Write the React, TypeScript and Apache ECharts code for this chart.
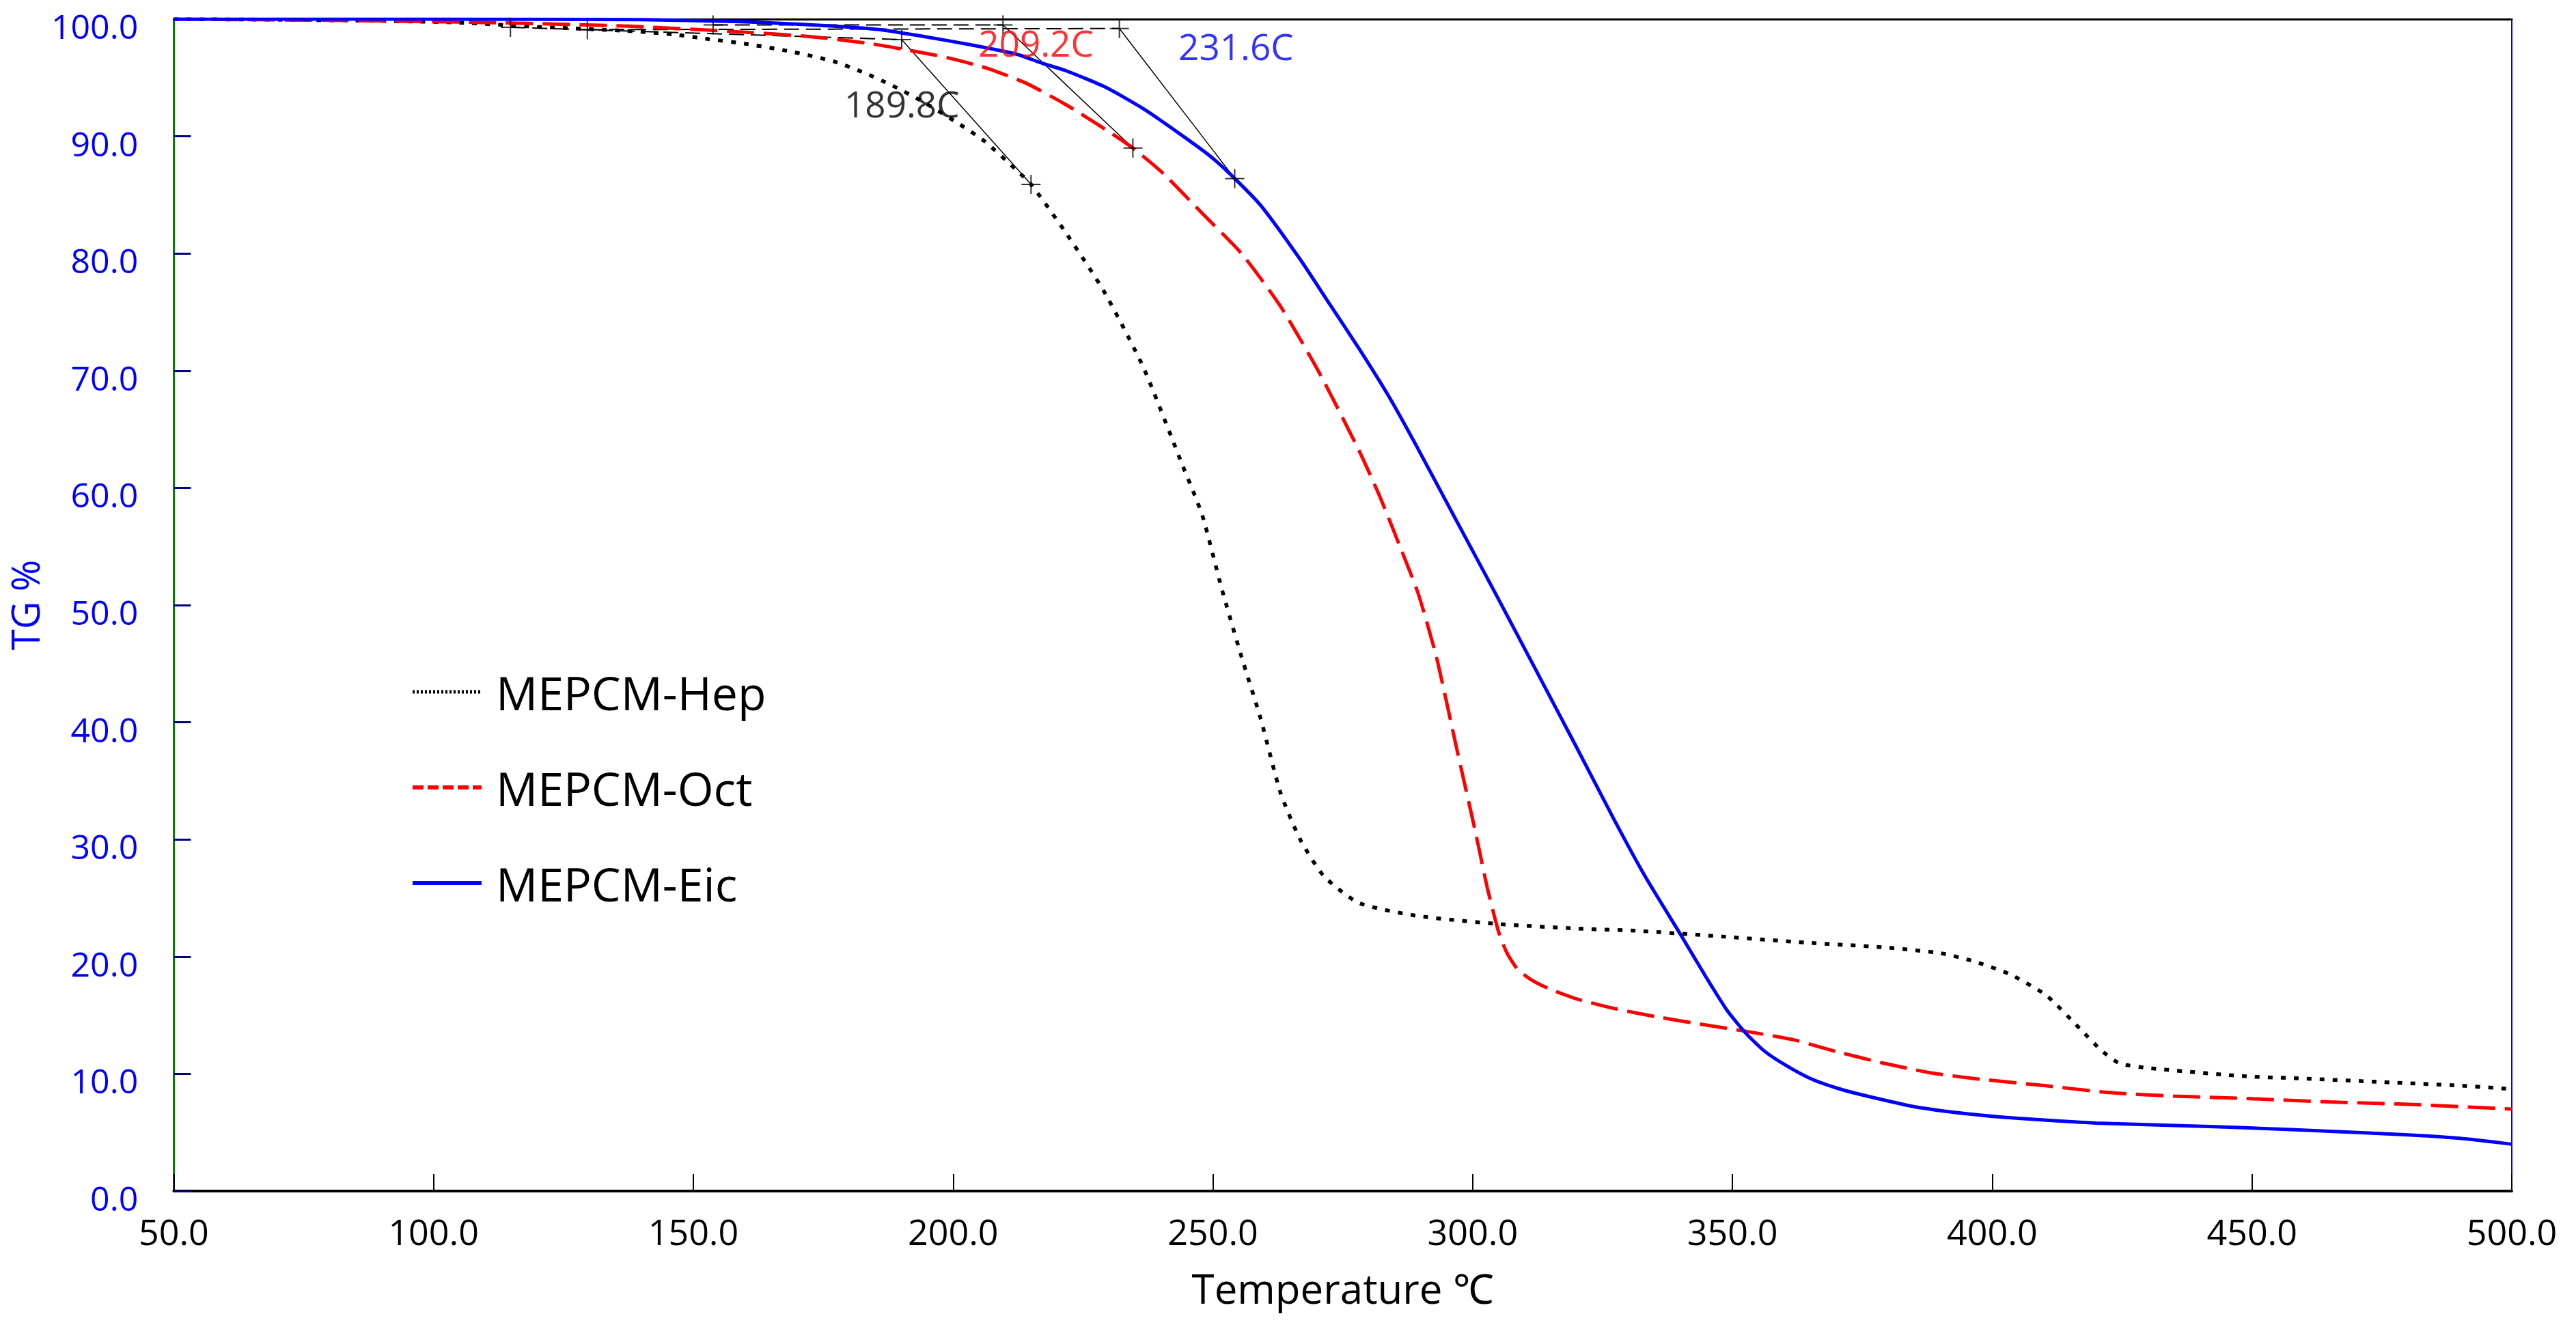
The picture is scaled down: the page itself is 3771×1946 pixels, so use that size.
import { useEffect, useRef } from "react";
import * as echarts from "echarts";

const FONT = '"Open Sans", "Noto Sans", sans-serif';

// MEPCM-Hep (black dotted)
const hepTemp = [50, 70, 90, 105, 120, 137, 146, 153, 160, 168, 177, 183, 188, 194, 201, 206, 212, 215, 221.5, 229, 236.6, 244, 248, 251.7, 255.5, 259.2, 263, 266.8, 271.3, 278, 289, 304.5, 320, 332, 348.6, 364, 379, 390, 396.5, 403.4, 410.4, 417, 421, 424.5, 430, 448.5, 460, 475, 490, 500];
const hepTG = [100, 99.95, 99.85, 99.7, 99.35, 99.0, 98.7, 98.3, 97.9, 97.3, 96.4, 95.4, 94.4, 93.0, 91.1, 89.6, 87.2, 85.9, 81.9, 76.8, 70.3, 62.1, 57.6, 51.4, 45.6, 40.3, 34.0, 30.0, 26.9, 24.6, 23.5, 22.8, 22.4, 22.2, 21.7, 21.2, 20.8, 20.3, 19.6, 18.5, 16.7, 13.8, 12.0, 10.9, 10.5, 9.8, 9.6, 9.3, 9.0, 8.7];

// MEPCM-Oct (red dashed)
const octTemp = [50, 80, 111, 137.5, 159.4, 172.7, 184.2, 192, 199, 206.6, 214.2, 221.7, 229.3, 234.6, 240.5, 248, 255.5, 263, 270.5, 278, 282, 286, 289.5, 293, 297, 300.6, 302.8, 305, 306.5, 308.5, 311, 314.5, 320, 327, 335, 344.4, 353, 361.8, 370, 379.2, 388, 396.5, 410, 422.5, 435, 448.5, 465, 480, 500];
const octTG = [100, 99.9, 99.7, 99.4, 98.9, 98.5, 97.9, 97.3, 96.7, 95.8, 94.5, 92.7, 90.6, 89.0, 86.8, 83.4, 80.0, 75.5, 69.8, 63.3, 59.4, 55.0, 51.0, 45.6, 37.6, 30.5, 25.9, 22.1, 20.4, 19.0, 18.1, 17.3, 16.4, 15.6, 14.9, 14.2, 13.6, 12.9, 11.9, 10.9, 10.1, 9.6, 9.0, 8.4, 8.1, 7.9, 7.6, 7.4, 7.0];

// MEPCM-Eic (blue solid)
const eicTemp = [50, 100, 140, 158, 164, 177, 186, 194.6, 203.5, 212.3, 216.7, 221.7, 229.3, 236.8, 244.3, 249.5, 254.2, 259.4, 266.8, 272, 278.1, 284, 289.4, 297, 304.5, 312, 319.6, 327.1, 333, 340, 345, 349, 352.5, 356, 360, 365, 370, 375, 385, 395, 405, 420, 435, 448.5, 465, 480, 490, 500];
const eicTG = [100, 100, 99.95, 99.8, 99.7, 99.4, 99.1, 98.5, 97.8, 97.0, 96.3, 95.6, 94.2, 92.3, 90.0, 88.3, 86.4, 84.0, 79.5, 76.0, 71.9, 67.7, 63.4, 57.1, 50.9, 44.6, 38.2, 31.8, 27.0, 21.9, 18.2, 15.4, 13.5, 12.0, 10.8, 9.6, 8.8, 8.2, 7.2, 6.6, 6.2, 5.8, 5.6, 5.4, 5.1, 4.8, 4.5, 4.0];

// onset construction: baseline start, onset point, inflection point (Hep, Oct, Eic)
const baseStartTemp = [114.8, 153.8, 129.6];
const baseStartTG = [99.3, 99.5, 99.1];
const onsetTemp = [190.1, 209.6, 232.0];
const onsetTG = [98.25, 99.5, 99.2];
const inflTemp = [215.0, 234.6, 254.2];
const inflTG = [85.9, 89.0, 86.4];

const onsetLabels = ["189.8C", "209.2C", "231.6C"];
const labelTemp = [179.0, 204.8, 243.3];
const labelTG = [92.8, 98.0, 97.7];
const labelColors = ["#000000", "#ff0000", "#0000ff"];

const seriesNames = ["MEPCM-Hep", "MEPCM-Oct", "MEPCM-Eic"];

const zip = (xs: number[], ys: number[]) => xs.map((x, i) => [x, ys[i]]);

export default function App() {
  const chartRef = useRef<HTMLDivElement>(null);

  useEffect(() => {
    if (!chartRef.current) return;
    const chart = echarts.init(chartRef.current, null, { renderer: "svg" });

    const helperLines: any[] = [];
    for (let i = 0; i < 3; i++) {
      helperLines.push({
        type: "line",
        silent: true,
        symbol: "none",
        z: 1,
        data: [
          [baseStartTemp[i], baseStartTG[i]],
          [onsetTemp[i], onsetTG[i]],
        ],
        lineStyle: { color: "#000", width: 2, type: [22, 10] },
      });
      helperLines.push({
        type: "line",
        silent: true,
        symbol: "none",
        z: 1,
        data: [
          [onsetTemp[i], onsetTG[i]],
          [inflTemp[i], inflTG[i]],
        ],
        lineStyle: { color: "#000", width: 1.5, type: "solid" },
      });
    }

    const crossPoints = [
      ...zip(baseStartTemp, baseStartTG),
      ...zip(onsetTemp, onsetTG),
      ...zip(inflTemp, inflTG),
    ];

    const option: echarts.EChartsOption = {
      animation: false,
      backgroundColor: "#ffffff",
      grid: { left: 252, right: 94, top: 28, bottom: 202 },
      legend: {
        data: [
          { name: seriesNames[0], lineStyle: { type: [3, 3], width: 5 } },
          { name: seriesNames[1], lineStyle: { type: [16, 6], width: 6 } },
          { name: seriesNames[2], lineStyle: { width: 6 } },
        ],
        itemStyle: { opacity: 0 },
        orient: "vertical",
        left: 596,
        top: 974,
        itemWidth: 101,
        itemHeight: 20,
        itemGap: 72,
        textStyle: {
          fontSize: 68,
          fontFamily: FONT,
          color: "#000",
          padding: [0, 0, 0, 16],
        },
      },
      xAxis: [
        {
          type: "value",
          min: 50,
          max: 500,
          interval: 50,
          name: "Temperature \u2103",
          nameLocation: "middle",
          nameGap: 112,
          nameTextStyle: { fontSize: 60, fontFamily: FONT, color: "#000" },
          axisLine: { onZero: false, lineStyle: { color: "#000", width: 4 } },
          axisTick: { inside: true, length: 25, lineStyle: { color: "#000", width: 2 } },
          axisLabel: {
            margin: 32,
            fontSize: 52,
            fontFamily: FONT,
            color: "#000",
            formatter: (v: number) => v.toFixed(1),
          },
          splitLine: { show: false },
        },
        {
          type: "value",
          position: "top",
          min: 50,
          max: 500,
          axisLine: { onZero: false, lineStyle: { color: "#000", width: 3 } },
          axisTick: { show: false },
          axisLabel: { show: false },
          splitLine: { show: false },
        },
      ],
      yAxis: [
        {
          type: "value",
          min: 0,
          max: 100,
          interval: 10,
          name: "TG %",
          nameLocation: "middle",
          nameGap: 170,
          nameTextStyle: { fontSize: 56, lineHeight: 56, fontFamily: FONT, color: "#0000ff" },
          axisLine: { show: true, lineStyle: { color: "#008000", width: 3 } },
          axisTick: { inside: true, length: 25, lineStyle: { color: "#000080", width: 3 } },
          axisLabel: {
            margin: 52,
            fontSize: 50,
            lineHeight: 20,
            verticalAlign: "top",
            fontFamily: FONT,
            color: "#0000ff",
            formatter: (v: number) => v.toFixed(1),
          },
          splitLine: { show: false },
        },
        {
          type: "value",
          position: "right",
          min: 0,
          max: 100,
          axisLine: { show: true, lineStyle: { color: "#0000ff", width: 2 } },
          axisTick: { show: false },
          axisLabel: { show: false },
          splitLine: { show: false },
        },
      ],
      series: [
        ...helperLines,
        {
          name: seriesNames[0],
          type: "line",
          symbol: "none",
          smooth: 0.2,
          z: 3,
          data: zip(hepTemp, hepTG),
          lineStyle: { color: "#000", width: 5.5, type: [7, 12] },
          itemStyle: { color: "#000" },
        },
        {
          name: seriesNames[1],
          type: "line",
          symbol: "none",
          smooth: 0.2,
          z: 4,
          data: zip(octTemp, octTG),
          lineStyle: { color: "#ff0000", width: 5, type: [40, 14] },
          itemStyle: { color: "#ff0000" },
        },
        {
          name: seriesNames[2],
          type: "line",
          symbol: "none",
          smooth: 0.2,
          z: 5,
          data: zip(eicTemp, eicTG),
          lineStyle: { color: "#0000ff", width: 5 },
          itemStyle: { color: "#0000ff" },
        },
        {
          type: "scatter",
          silent: true,
          z: 6,
          symbol: "path://M5,0L5,10M0,5L10,5",
          symbolSize: 28,
          itemStyle: { color: "transparent", borderColor: "#000", borderWidth: 2 },
          data: crossPoints,
        },
        {
          type: "scatter",
          silent: true,
          z: 7,
          symbolSize: 1,
          itemStyle: { color: "transparent" },
          label: {
            show: true,
            position: "right",
            distance: 0,
            fontSize: 53,
            fontFamily: FONT,
            formatter: (p: any) => p.name,
          },
          data: onsetLabels.map((name, i) => ({
            name,
            value: [labelTemp[i], labelTG[i]],
            label: { color: labelColors[i] },
          })),
        },
      ],
    };

    chart.setOption(option);
    const handleResize = () => chart.resize();
    window.addEventListener("resize", handleResize);
    return () => {
      window.removeEventListener("resize", handleResize);
      chart.dispose();
    };
  }, []);

  return (
    <div
      ref={chartRef}
      style={{ position: "fixed", left: 0, top: 0, width: 3771, height: 1946, background: "#fff" }}
    />
  );
}
